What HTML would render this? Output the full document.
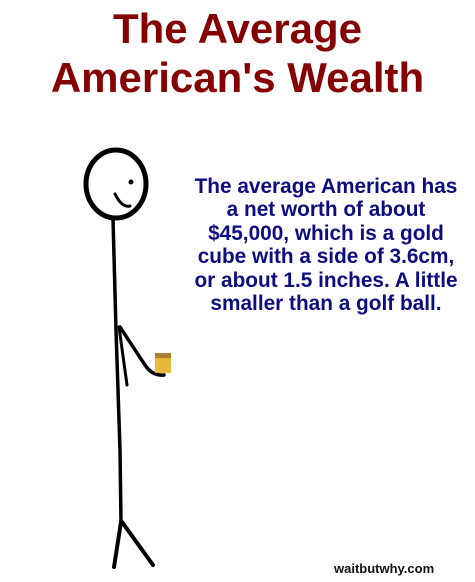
<!DOCTYPE html>
<html><head><meta charset="utf-8"><style>
body{margin:0;width:475px;height:582px;background:#fff;position:relative;overflow:hidden;font-family:"Liberation Sans",sans-serif}
#title{position:absolute;left:0;top:4px;width:475px;text-align:center;color:#850000;font-weight:bold;font-size:42px;line-height:49px}
#desc{position:absolute;left:176px;top:175px;width:300px;text-align:center;color:#0d0d80;font-weight:bold;font-size:20.8px;line-height:23.4px}
#foot{position:absolute;left:334px;top:561px;font-size:13px;font-weight:bold;color:#111}
svg{position:absolute;left:0;top:0}
</style></head><body>
<div id="title">The Average<br>American's Wealth</div>
<svg width="475" height="582">
<g fill="none" stroke="#000" stroke-linecap="round" stroke-width="4">
<ellipse cx="116" cy="184" rx="30" ry="34" stroke-width="5"/>
<path d="M115 194 Q122 208 130 206" stroke-width="3"/>
<path d="M113 219 L116 330 L120 450 L121 522" stroke-width="3.5"/>
<path d="M120 327 Q135 350 145 365 Q152 376 164 375" stroke-width="3.5"/>
<path d="M119 327 L127 385" stroke-width="3"/>
<path d="M121 522 L114 567"/>
<path d="M122 522 L153 565"/>
</g>
<circle cx="131" cy="182" r="2.5" fill="#000"/>
<rect x="155" y="355" width="16" height="18" fill="#e8b83a"/>
<rect x="155" y="353" width="16" height="5" fill="#b08030"/>
</svg>
<div id="desc">The average American has<br>a net worth of about<br>$45,000, which is a gold<br>cube with a side of 3.6cm,<br>or about 1.5 inches. A little<br>smaller than a golf ball.</div>
<div id="foot">waitbutwhy.com</div>
</body></html>
